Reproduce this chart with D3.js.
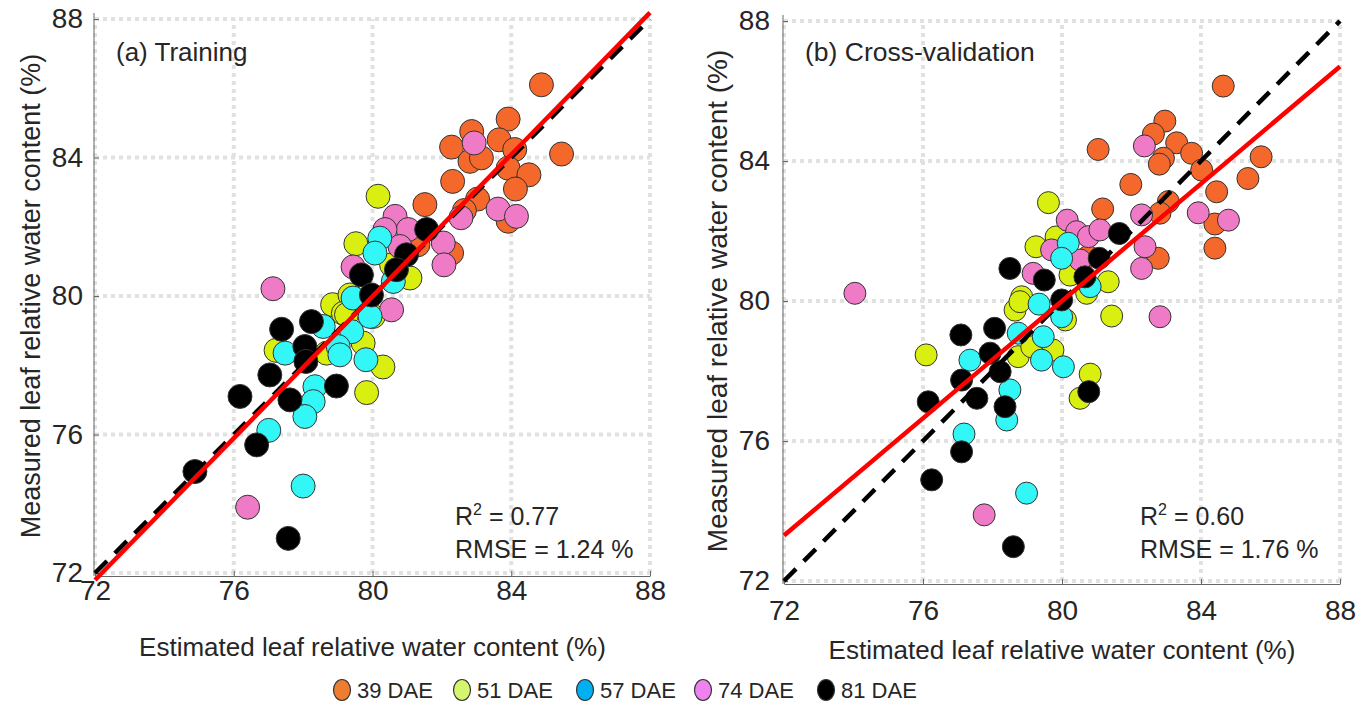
<!DOCTYPE html>
<meta charset="utf-8">
<style>
  body { margin: 0; background: #fff; }
  text { font-family: "Liberation Sans", Arial, sans-serif; fill: #262626; }
</style>
<body>
<script src="https://cdn.jsdelivr.net/npm/d3@7"></script>
<script>

// tick values shared by both axes of both panels
var ticks = [72, 76, 80, 84, 88];

var groups = ["39 DAE", "51 DAE", "57 DAE", "74 DAE", "81 DAE"];
var pointColors = ["#f4682c", "#d9ef10", "#33f6f6", "#ef7bc6", "#000000"];
var legendColors = ["#ed7d31", "#d6f56e", "#00b0f0", "#ee82ee", "#000000"];
// drawing order of the groups (index into groups)
var drawOrder = [0, 1, 3, 2, 4];

// (a) training: [estimated, measured]
var train39 = [[84.87,86.10],[83.91,85.11],[82.86,84.75],[82.28,84.30],[83.65,84.51],[82.81,83.89],[83.14,83.99],
  [84.10,84.23],[85.45,84.10],[83.91,83.69],[84.51,83.50],[82.31,83.31],[84.12,83.09],[83.03,82.80],[82.65,82.47],
  [81.51,82.64],[83.91,82.16],[82.28,81.24],[81.31,81.48]];
var train51 = [[80.16,82.88],[79.52,81.51],[80.55,80.90],[81.08,80.52],[78.85,79.75],[79.35,80.03],[79.16,79.50],
  [80.02,79.41],[79.73,78.64],[78.68,78.35],[80.30,77.95],[77.22,78.43],[79.83,77.21],[79.25,79.46]];
var train57 = [[80.21,81.67],[80.07,81.24],[79.44,79.94],[79.93,79.41],[79.40,78.97],[79.01,78.54],[79.81,78.16],
  [80.60,80.42],[78.58,79.12],[79.06,78.30],[78.34,77.38],[78.29,76.95],[78.05,76.52],[77.01,76.12],[78.00,74.51],
  [77.48,78.35]];
var train74 = [[82.93,84.42],[83.62,82.51],[84.15,82.30],[82.55,82.26],[80.65,82.30],[81.03,81.92],[82.04,81.53],
  [82.06,80.90],[79.44,80.84],[80.55,79.60],[80.36,81.92],[80.79,81.43],[77.13,80.21],[76.40,73.90]];
var train81 = [[81.56,81.92],[80.98,81.19],[80.69,80.76],[79.68,80.61],[79.97,80.03],[78.24,79.26],[78.05,78.54],
  [77.38,79.04],[78.08,78.11],[77.04,77.72],[76.18,77.10],[77.62,77.00],[78.96,77.40],[76.66,75.70],[74.88,74.93],
  [77.57,73.00]];

// (b) cross-validation
var cv39 = [[84.64,86.14],[82.96,85.14],[82.63,84.77],[83.30,84.52],[81.04,84.33],[83.73,84.22],[82.92,84.08],
  [82.80,83.91],[84.02,83.74],[85.73,84.12],[85.35,83.50],[81.98,83.33],[84.45,83.12],[81.17,82.63],[83.06,82.84],
  [82.82,82.51],[84.40,82.20],[84.40,81.51],[82.77,81.22],[80.75,81.27]];
var cv51 = [[79.61,82.81],[79.25,81.55],[78.84,80.12],[78.65,79.74],[81.43,79.57],[81.33,80.55],[80.71,80.22],
  [80.23,80.74],[79.83,81.83],[78.74,78.41],[79.13,78.69],[76.09,78.46],[78.79,79.98],[80.81,77.91],[80.52,77.22],
  [80.10,79.46],[79.74,78.60]];
var cv57 = [[80.18,81.65],[79.99,81.22],[79.34,79.91],[80.81,80.41],[79.99,79.55],[78.74,79.08],[79.46,78.98],
  [79.41,78.31],[77.35,78.31],[78.50,77.46],[78.41,76.60],[77.18,76.20],[78.98,74.51],[80.04,78.12]];
var cv74 = [[82.37,84.43],[82.29,82.46],[83.92,82.52],[84.79,82.31],[82.39,81.55],[82.29,80.93],[80.15,82.31],
  [80.42,81.98],[80.76,81.84],[81.09,82.03],[79.70,81.46],[79.17,80.79],[82.82,79.55],[80.52,81.17],[74.04,80.22],
  [77.76,73.89]];
var cv81 = [[81.65,81.93],[81.07,81.22],[80.66,80.69],[79.49,80.60],[78.50,80.93],[79.99,80.03],[78.06,79.22],
  [77.09,79.03],[77.93,78.51],[78.22,77.98],[77.11,77.74],[77.55,77.22],[76.15,77.12],[78.36,76.98],[77.11,75.69],
  [76.25,74.89],[78.60,72.98],[80.77,77.41]];

// fitted regression lines [slope, intercept]
var trainFit = [1.024, -1.93];
var cvFit = [0.8375, 13.0];
var trainStats = ["0.77", "1.24"];
var cvStats = ["0.60", "1.76"];

var svg = d3.select("body").append("svg")
    .attr("width", 1369)
    .attr("height", 706);

function panel(p) {
  var x = d3.scaleLinear().domain([72, 88]).range(p.xr);
  var y = d3.scaleLinear().domain([72, 88]).range(p.yr);
  var g = svg.append("g");

  // dotted grid
  g.selectAll(".gx").data(ticks).enter().append("line")
      .attr("x1", x).attr("x2", x)
      .attr("y1", p.yr[0]).attr("y2", p.yr[1])
      .attr("stroke", "#e1e1e1").attr("stroke-width", 4).attr("stroke-dasharray", "4,4");
  g.selectAll(".gy").data(ticks).enter().append("line")
      .attr("y1", y).attr("y2", y)
      .attr("x1", p.xr[0]).attr("x2", p.xr[1])
      .attr("stroke", "#e1e1e1").attr("stroke-width", 4).attr("stroke-dasharray", "4,4");

  // axes
  var ax = g.append("g").attr("transform", "translate(0," + (p.yr[0] + 3) + ")")
      .call(d3.axisBottom(x).tickValues(ticks).tickSize(-5).tickPadding(p.xpad).tickSizeOuter(0));
  var ay = g.append("g").attr("transform", "translate(" + (p.xr[0] - 1) + ",0)")
      .call(d3.axisLeft(y).tickValues(ticks).tickSize(-5).tickPadding(p.ypad).tickSizeOuter(0));
  [ax, ay].forEach(function(a) {
    a.select(".domain").attr("stroke", "#666");
    a.selectAll(".tick line").attr("stroke", "#666");
    a.selectAll("text").attr("font-size", p.tickFont).attr("fill", "#262626")
        .attr("font-family", "Liberation Sans, Arial, sans-serif");
  });
  ay.select(".domain").attr("d", "M0," + (p.yr[0] + 3) + "V" + (p.yr[1] - 6));

  // points, one layer per group
  drawOrder.forEach(function(i) {
    g.selectAll(null).data(p.data[i]).enter().append("circle")
        .attr("cx", function(d) { return x(d[0]); })
        .attr("cy", function(d) { return y(d[1]); })
        .attr("r", p.r)
        .attr("fill", pointColors[i])
        .attr("stroke", "#333")
        .attr("stroke-width", 1);
  });

  // 1:1 line and fit
  var line = d3.line().x(function(d) { return x(d[0]); }).y(function(d) { return y(d[1]); });
  g.append("path").datum([[72, 72], [88, 88]]).attr("d", line)
      .attr("stroke", "#000").attr("stroke-width", 4.5).attr("stroke-dasharray", "17,11").attr("fill", "none");
  g.append("path").datum([72, 88].map(function(v) { return [v, p.fit[0] * v + p.fit[1]]; })).attr("d", line)
      .attr("stroke", "#ff0000").attr("stroke-width", 4.5).attr("fill", "none");

  // texts
  g.append("text").attr("x", p.xr[0] + 21).attr("y", 61).attr("font-size", p.titleFont).text(p.title);
  var r2 = g.append("text").attr("x", p.statX).attr("y", 525).attr("font-size", 25);
  r2.append("tspan").text("R");
  r2.append("tspan").attr("dy", -10).attr("font-size", 16).text("2");
  r2.append("tspan").attr("dy", 10).text(" = " + p.stats[0]);
  g.append("text").attr("x", p.statX).attr("y", 558).attr("font-size", 25).text("RMSE = " + p.stats[1] + " %");

  g.append("text").attr("x", (p.xr[0] + p.xr[1]) / 2).attr("y", p.xtitleY)
      .attr("text-anchor", "middle").attr("font-size", 26)
      .text("Estimated leaf relative water content (%)");
  g.append("text")
      .attr("transform", "translate(" + p.ytitleX + "," + ((p.yr[0] + p.yr[1]) / 2) + ") rotate(-90)")
      .attr("text-anchor", "middle").attr("font-size", p.ytitleFont)
      .text("Measured leaf relative water content (%)");
}

panel({
  xr: [95, 650], yr: [573, 19], r: 12,
  data: [train39, train51, train57, train74, train81],
  fit: trainFit, stats: trainStats, title: "(a) Training", titleFont: 26,
  statX: 455, xpad: 4, ypad: 11, tickFont: 28,
  xtitleY: 656, ytitleX: 40, ytitleFont: 27
});
panel({
  xr: [784, 1340], yr: [581, 21], r: 11,
  data: [cv39, cv51, cv57, cv74, cv81],
  fit: cvFit, stats: cvStats, title: "(b) Cross-validation", titleFont: 26.5,
  statX: 1140, xpad: 16, ypad: 13, tickFont: 28,
  xtitleY: 659, ytitleX: 727, ytitleFont: 28
});

// legend
var legendX = [342, 462, 585, 703, 826];
var lg = svg.append("g");
groups.forEach(function(name, i) {
  lg.append("ellipse").attr("cx", legendX[i]).attr("cy", 690).attr("rx", 8.5).attr("ry", 10.5)
      .attr("fill", legendColors[i]).attr("stroke", "#333").attr("stroke-width", 1.2);
  lg.append("text").attr("x", legendX[i] + 15).attr("y", 698).attr("font-size", 22).text(name);
});

</script>
